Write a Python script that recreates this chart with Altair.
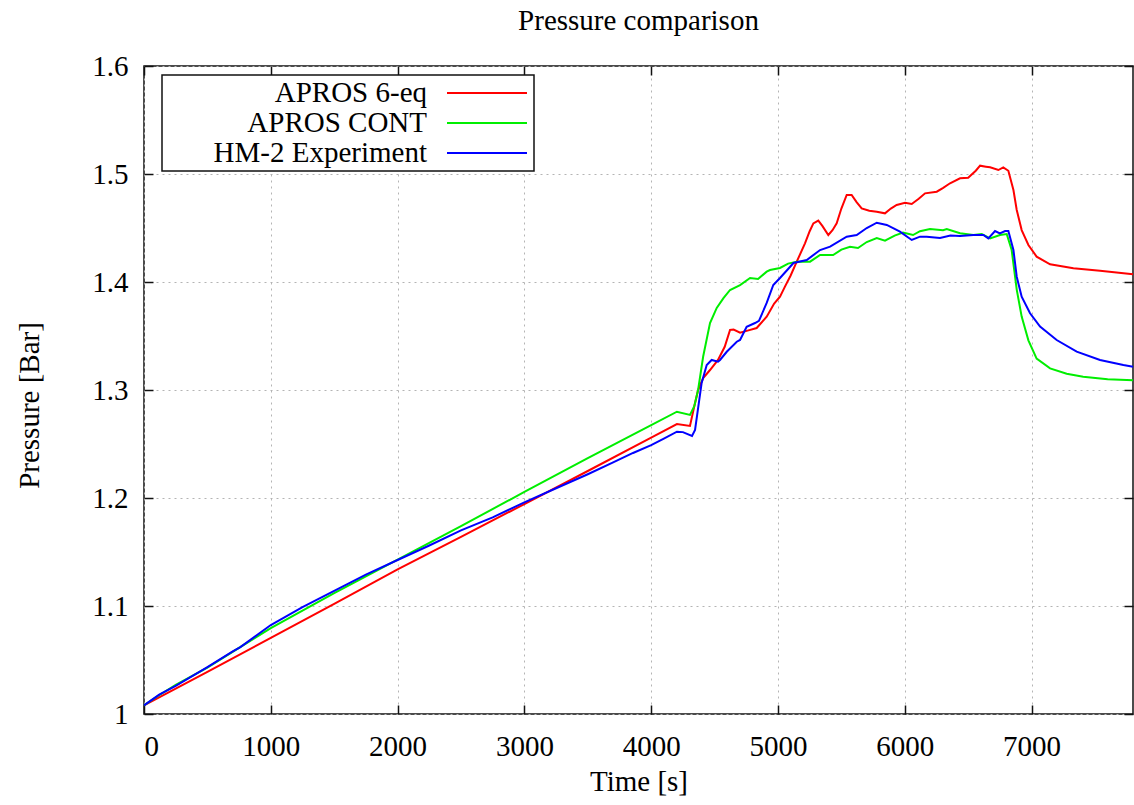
import altair as alt
import pandas as pd

# ---- data -------------------------------------------------------------
series_names = ["APROS 6-eq", "APROS CONT", "HM-2 Experiment"]
series_colors = ["#ff0000", "#00ee00", "#0000ff"]

red_time = [0, 500, 1000, 1500, 2000, 2500, 3000, 3500, 4000, 4203, 4306, 4340,
            4370, 4410, 4464, 4527, 4580, 4622, 4650, 4701, 4760, 4832, 4911,
            4970, 5016, 5055, 5100, 5148, 5213, 5250, 5279, 5318, 5350, 5397,
            5430, 5463, 5500, 5542, 5581, 5620, 5660, 5720, 5779, 5844, 5890,
            5936, 6002, 6055, 6110, 6160, 6252, 6300, 6357, 6436, 6500, 6560,
            6594, 6640, 6673, 6738, 6777, 6817, 6857, 6883, 6922, 6975, 7040,
            7146, 7330, 7540, 7800]
red_pressure = [1.008, 1.039, 1.0704, 1.102, 1.134, 1.164, 1.1944, 1.225, 1.256,
                1.2685, 1.2667, 1.285, 1.300, 1.311, 1.3185, 1.3278, 1.340,
                1.3556, 1.356, 1.353, 1.355, 1.3574, 1.3679, 1.380, 1.3864,
                1.3957, 1.406, 1.4188, 1.4358, 1.447, 1.4543, 1.4568, 1.452,
                1.4435, 1.448, 1.4543, 1.468, 1.4806, 1.4806, 1.474, 1.4682,
                1.466, 1.4651, 1.4636, 1.468, 1.4713, 1.4734, 1.4722, 1.477,
                1.4821, 1.4836, 1.487, 1.4914, 1.496, 1.4965, 1.503, 1.5077,
                1.5068, 1.5062, 1.5037, 1.5062, 1.503, 1.4852, 1.4667, 1.4481,
                1.4343, 1.4235, 1.4164, 1.4127, 1.4105, 1.4071]

green_time = [0, 100, 250, 500, 1000, 1500, 2000, 2500, 3000, 3500, 4000, 4203,
              4306, 4340, 4370, 4410, 4464, 4517, 4570, 4622, 4701, 4780, 4843,
              4911, 4937, 5016, 5080, 5148, 5253, 5332, 5435, 5500, 5568, 5631,
              5700, 5779, 5844, 5920, 5986, 6065, 6120, 6199, 6302, 6331, 6436,
              6541, 6607, 6673, 6751, 6804, 6843, 6883, 6922, 6975, 7040, 7146,
              7277, 7407, 7600, 7800]
green_pressure = [1.008, 1.016, 1.027, 1.043, 1.0796, 1.112, 1.143, 1.174,
                  1.2056, 1.237, 1.2675, 1.2799, 1.2769, 1.285, 1.300, 1.331,
                  1.362, 1.376, 1.385, 1.3926, 1.3972, 1.4037, 1.4028, 1.4096,
                  1.4111, 1.413, 1.417, 1.4188, 1.4188, 1.425, 1.425, 1.430,
                  1.4327, 1.4315, 1.437, 1.4407, 1.4383, 1.443, 1.4457, 1.4435,
                  1.447, 1.449, 1.448, 1.449, 1.4451, 1.4435, 1.4445, 1.4404,
                  1.4435, 1.4444, 1.4296, 1.393, 1.368, 1.346, 1.329, 1.320,
                  1.315, 1.3123, 1.310, 1.309]

blue_time = [0, 120, 250, 500, 700, 760, 1000, 1250, 1500, 1750, 2000, 2250,
             2500, 2750, 3000, 3250, 3500, 3700, 3857, 4000, 4100, 4203, 4250,
             4322, 4346, 4398, 4438, 4477, 4527, 4543, 4596, 4675, 4701, 4753,
             4819, 4850, 4911, 4963, 5016, 5080, 5122, 5227, 5332, 5411, 5542,
             5621, 5700, 5779, 5858, 5962, 6055, 6120, 6173, 6278, 6360, 6436,
             6541, 6620, 6659, 6712, 6750, 6791, 6817, 6857, 6883, 6922, 6988,
             7067, 7198, 7356, 7540, 7724, 7800]
blue_pressure = [1.008, 1.018, 1.026, 1.0435, 1.058, 1.062, 1.0824, 1.099,
                 1.114, 1.129, 1.1426, 1.156, 1.170, 1.182, 1.196, 1.209, 1.222,
                 1.233, 1.2417, 1.249, 1.255, 1.2614, 1.261, 1.2574, 1.263,
                 1.3065, 1.3231, 1.3278, 1.3262, 1.3278, 1.3354, 1.3447, 1.3463,
                 1.3586, 1.362, 1.364, 1.3806, 1.3972, 1.4037, 1.412, 1.4176,
                 1.4204, 1.4296, 1.4327, 1.442, 1.4435, 1.450, 1.4549, 1.4528,
                 1.4466, 1.4389, 1.442, 1.442, 1.4407, 1.443, 1.4426, 1.4435,
                 1.4435, 1.4404, 1.4472, 1.445, 1.4472, 1.4472, 1.4296, 1.4049,
                 1.3864, 1.371, 1.3587, 1.3463, 1.3355, 1.3278, 1.3231, 1.3216]

x_ticks = [0, 1000, 2000, 3000, 4000, 5000, 6000, 7000]
y_ticks = [1.0, 1.1, 1.2, 1.3, 1.4, 1.5, 1.6]

rows = []
for name, ts, ps in zip(series_names,
                        [red_time, green_time, blue_time],
                        [red_pressure, green_pressure, blue_pressure]):
    for t, p in zip(ts, ps):
        rows.append({"series": name, "time": t, "pressure": p})
df = pd.DataFrame(rows)

# ---- styling ----------------------------------------------------------
FONT = "Liberation Serif"
FS = 29
TICK = 9

x_scale = alt.Scale(domain=[0, 7800], nice=False, zero=False)
y_scale = alt.Scale(domain=[1.0, 1.6], nice=False, zero=False)

common_axis = dict(
    domain=False, tickSize=TICK, offset=-TICK, tickColor="#111111",
    tickWidth=1.5, labelFont=FONT, labelFontSize=FS, labelColor="black",
    titleFont=FONT, titleFontSize=FS, titleFontWeight="normal",
    titleColor="black", gridColor="#b4b4b4", gridDash=[2, 4], gridWidth=1,
)

base = alt.Chart(df)

lines = base.mark_line(strokeWidth=2).encode(
    x=alt.X("time:Q", scale=x_scale,
            axis=alt.Axis(orient="bottom", values=x_ticks, format="d",
                          title="Time [s]", grid=True, labelPadding=18,
                          titleBaseline="alphabetic", titleY=85,
                          **common_axis)),
    y=alt.Y("pressure:Q", scale=y_scale,
            axis=alt.Axis(orient="left", values=y_ticks, format=".1~f",
                          title="Pressure [Bar]", grid=True, labelPadding=16,
                          titleBaseline="alphabetic", titleAlign="center",
                          titleAngle=270, titleX=-115, titleY=339,
                          **common_axis)),
    color=alt.Color(
        "series:N",
        scale=alt.Scale(domain=series_names, range=series_colors),
        legend=alt.Legend(
            title=None, orient="none", legendX=18, legendY=9,
            # flat path drawn to the right of its anchor: the line sample
            # sits after the right-aligned label, gnuplot style
            symbolType="M2.5,0H8.214", symbolSize=784,
            symbolStrokeWidth=2, symbolOffset=232, labelOffset=0,
            labelAlign="right", labelLimit=500, labelFont=FONT,
            labelFontSize=FS, labelColor="black", rowPadding=0, padding=3,
            fillColor="white", strokeColor="#111111",
        ),
    ),
)

# mirrored tick marks on the top and right edges
mirror = base.mark_line(strokeOpacity=0).encode(
    x=alt.X("time:Q", scale=x_scale,
            axis=alt.Axis(orient="top", values=x_ticks, labels=False,
                          title=None, grid=False, **common_axis)),
    y=alt.Y("pressure:Q", scale=y_scale,
            axis=alt.Axis(orient="right", values=y_ticks, labels=False,
                          title=None, grid=False, **common_axis)),
    detail="series:N",
)

chart = (
    alt.layer(lines, mirror)
    .resolve_axis(x="independent", y="independent")
    .properties(
        width=989,
        height=648,
        title=alt.TitleParams("Pressure comparison", font=FONT, fontSize=FS,
                              fontWeight="normal", color="black",
                              anchor="middle", frame="group",
                              baseline="alphabetic", offset=5, dy=12),
        autosize=alt.AutoSizeParams(type="none"),
        padding={"left": 144, "top": 66, "right": 1, "bottom": 91},
        background="white",
    )
    .configure_view(stroke="#111111", strokeWidth=1.5)
    .configure_legend(strokeWidth=1.5)
)

chart.save("out.html", embed_options={"renderer": "svg", "actions": False})
